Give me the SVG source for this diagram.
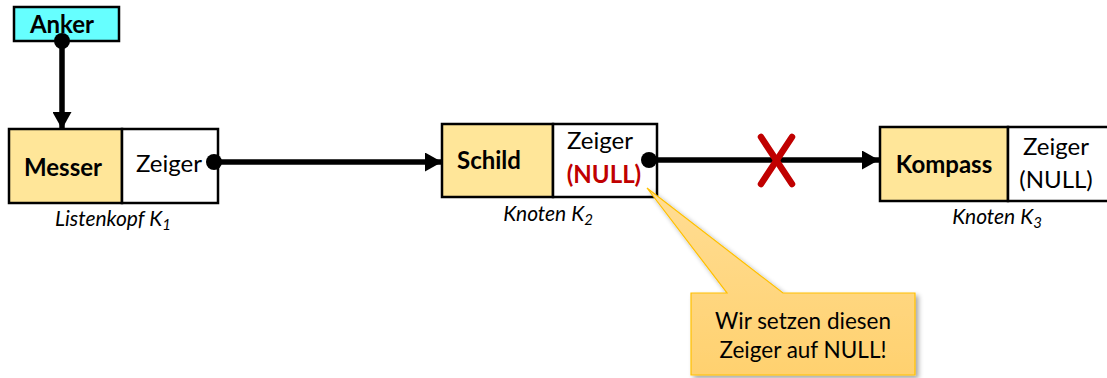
<svg xmlns="http://www.w3.org/2000/svg" width="1107" height="378" viewBox="0 0 1107 378">
  <defs>
    <style>
      .box { fill: #ffffff; stroke: #000000; stroke-width: 2.5; }
      .data { fill: #FFE699; stroke: #000000; stroke-width: 2.5; }
      .txt { font-family: Lato, "Liberation Sans", sans-serif; font-size: 24px; fill: #000000; }
      .bold { font-weight: bold; }
      .null { font-weight: bold; fill: #C00000; }
      .cap { font-family: Lato, "Liberation Sans", sans-serif; font-size: 21px; font-style: italic; fill: #000000; }
      .wire { stroke: #000000; stroke-width: 5.5; fill: none; }
      .dot { fill: #000000; }
      .callout-text { font-family: Lato, "Liberation Sans", sans-serif; font-size: 22.5px; fill: #000000; }
    </style>
    <marker id="arrow" viewBox="0 0 17 19" refX="17" refY="9.5" markerWidth="17" markerHeight="19" markerUnits="userSpaceOnUse" orient="auto">
      <path d="M0,0 L17,9.5 L0,19 Z" fill="#000000"/>
    </marker>
    <linearGradient id="calloutFill" x1="0" y1="0" x2="0" y2="1">
      <stop offset="0" stop-color="#FFDD94"/>
      <stop offset="1" stop-color="#FFD16F"/>
    </linearGradient>
    <filter id="shadow" x="-10%" y="-10%" width="130%" height="140%">
      <feGaussianBlur in="SourceAlpha" stdDeviation="2.5"/>
      <feOffset dx="3" dy="3" result="blur"/>
      <feComponentTransfer><feFuncA type="linear" slope="0.35"/></feComponentTransfer>
      <feMerge><feMergeNode/><feMergeNode in="SourceGraphic"/></feMerge>
    </filter>
  </defs>

  <!-- anchor -->
  <g id="anker">
    <rect x="14" y="7" width="105" height="34" fill="#66FFFF" stroke="#000000" stroke-width="2.5"/>
    <text class="txt bold" x="62" y="33" text-anchor="middle">Anker</text>
  </g>

  <!-- list head K1 -->
  <g id="k1">
    <rect class="data" x="9" y="129" width="113" height="74"/>
    <rect class="box" x="122" y="129" width="96" height="74"/>
    <text class="txt bold" x="63" y="176" text-anchor="middle">Messer</text>
    <text class="txt" x="169" y="172" text-anchor="middle">Zeiger</text>
    <text class="cap" x="113" y="226" text-anchor="middle">Listenkopf K<tspan font-size="15" dy="4">1</tspan></text>
  </g>

  <!-- node K2 -->
  <g id="k2">
    <rect class="data" x="442" y="124" width="111" height="73"/>
    <rect class="box" x="553" y="124" width="104" height="73"/>
    <text class="txt bold" x="489" y="169" text-anchor="middle">Schild</text>
    <text class="txt" x="600" y="149" text-anchor="middle">Zeiger</text>
    <text class="txt null" x="604" y="183" text-anchor="middle">(NULL)</text>
    <text class="cap" x="548" y="221" text-anchor="middle">Knoten K<tspan font-size="15" dy="4">2</tspan></text>
  </g>

  <!-- node K3 -->
  <g id="k3">
    <rect class="data" x="880" y="127" width="128" height="74"/>
    <rect class="box" x="1008" y="127" width="104" height="74"/>
    <text class="txt bold" x="944" y="173" text-anchor="middle">Kompass</text>
    <text class="txt" x="1056" y="155" text-anchor="middle">Zeiger</text>
    <text class="txt" x="1056" y="188" text-anchor="middle">(NULL)</text>
    <text class="cap" x="997" y="224" text-anchor="middle">Knoten K<tspan font-size="15" dy="4">3</tspan></text>
  </g>

  <!-- pointers -->
  <g id="connectors">
    <line class="wire" x1="62" y1="41" x2="62" y2="129" marker-end="url(#arrow)"/>
    <circle class="dot" cx="62" cy="41" r="8"/>
    <line class="wire" x1="214" y1="162" x2="442" y2="162" marker-end="url(#arrow)"/>
    <circle class="dot" cx="214" cy="162" r="8"/>
    <line class="wire" x1="649" y1="160" x2="879" y2="160" marker-end="url(#arrow)"/>
    <circle class="dot" cx="649" cy="160" r="8"/>
  </g>

  <!-- cut mark on the K2 -> K3 pointer -->
  <g id="cut" stroke="#C00000" stroke-width="6.5" stroke-linecap="round">
    <line x1="761" y1="137" x2="792" y2="184"/>
    <line x1="792" y1="137" x2="761" y2="184"/>
  </g>

  <!-- callout -->
  <g id="callout">
    <path d="M691,293 L727,293 L647,188 L783,293 L915,293 L915,375 L691,375 Z" fill="url(#calloutFill)" stroke="#FFC000" stroke-width="1.2" filter="url(#shadow)"/>
    <text class="callout-text" x="803" y="329" text-anchor="middle">Wir setzen diesen</text>
    <text class="callout-text" x="803" y="358" text-anchor="middle">Zeiger auf NULL!</text>
  </g>
</svg>
